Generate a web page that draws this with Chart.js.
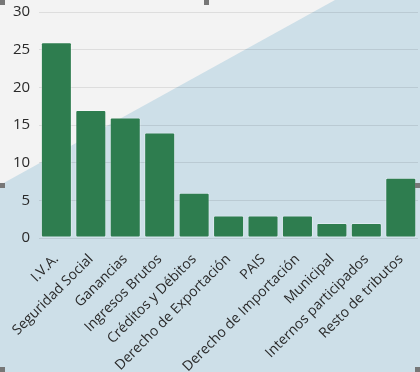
<!DOCTYPE html>
<html>
<head>
<meta charset="utf-8">
<script src="https://cdn.jsdelivr.net/npm/chart.js@4"></script>
<style>
  html, body { margin: 0; padding: 0; background: #fff; }
  #wrap { position: relative; width: 420px; height: 372px; }
  .h { position: absolute; width: 5px; height: 5px; background: #777; }
</style>
</head>
<body>
<div id="wrap">
  <canvas id="taxChart" width="420" height="372"></canvas>
  <div class="h" style="left:0;top:0"></div>
  <div class="h" style="left:204px;top:0"></div>
  <div class="h" style="left:0;top:183px"></div>
  <div class="h" style="left:415px;top:183px"></div>
  <div class="h" style="left:0;top:367px"></div>
  <div class="h" style="left:415px;top:367px"></div>
</div>
<script>
const categories = [
  "I.V.A.", "Seguridad Social", "Ganancias", "Ingresos Brutos",
  "Créditos y Débitos", "Derecho de Exportación", "PAIS",
  "Derecho de Importación", "Municipal", "Internos participados",
  "Resto de tributos"
];
const values = [26, 17, 16, 14, 6, 3, 3, 3, 2, 2, 8];
const yTicks = [0, 5, 10, 15, 20, 25, 30];

// diagonal two-tone background
const bgPlugin = {
  id: "bg",
  beforeDraw(chart) {
    const c = chart.ctx;
    const w = chart.width, h = chart.height;
    c.save();
    c.fillStyle = "#cddfe8";
    c.fillRect(0, 0, w, h);
    c.fillStyle = "#f3f3f3";
    c.beginPath();
    c.moveTo(0, 0);
    c.lineTo(335, 0);
    c.lineTo(0, 185);
    c.closePath();
    c.fill();
    c.restore();
  }
};

new Chart(document.getElementById("taxChart"), {
  type: "bar",
  data: {
    labels: categories,
    datasets: [{
      data: values,
      backgroundColor: "#2e7d4f",
      borderColor: "rgba(255,255,255,0.35)",
      borderWidth: 1,
      borderRadius: 2,
      borderSkipped: false,
      barPercentage: 0.9,
      categoryPercentage: 1
    }]
  },
  options: {
    responsive: false,
    animation: false,
    layout: { padding: { top: 12, right: 2, left: 4, bottom: 0 } },
    plugins: { legend: { display: false }, tooltip: { enabled: false } },
    scales: {
      x: {
        grid: { display: false },
        border: { display: false },
        afterFit: axis => { axis.height = 134; },
        ticks: {
          color: "#2a2a2a",
          font: { family: "Open Sans", size: 14 },
          maxRotation: 45,
          minRotation: 45,
          autoSkip: false,
          padding: 5
        }
      },
      y: {
        min: 0,
        max: 30,
        afterBuildTicks: axis => { axis.ticks = yTicks.map(v => ({ value: v })); },
        afterFit: axis => { axis.paddingTop = 0; },
        grid: { color: "rgba(0,0,0,0.09)", drawTicks: false },
        border: { display: false },
        ticks: {
          color: "#2a2a2a",
          font: { family: "Open Sans", size: 15 },
          padding: 9
        }
      }
    }
  },
  plugins: [bgPlugin]
});
</script>
</body>
</html>
